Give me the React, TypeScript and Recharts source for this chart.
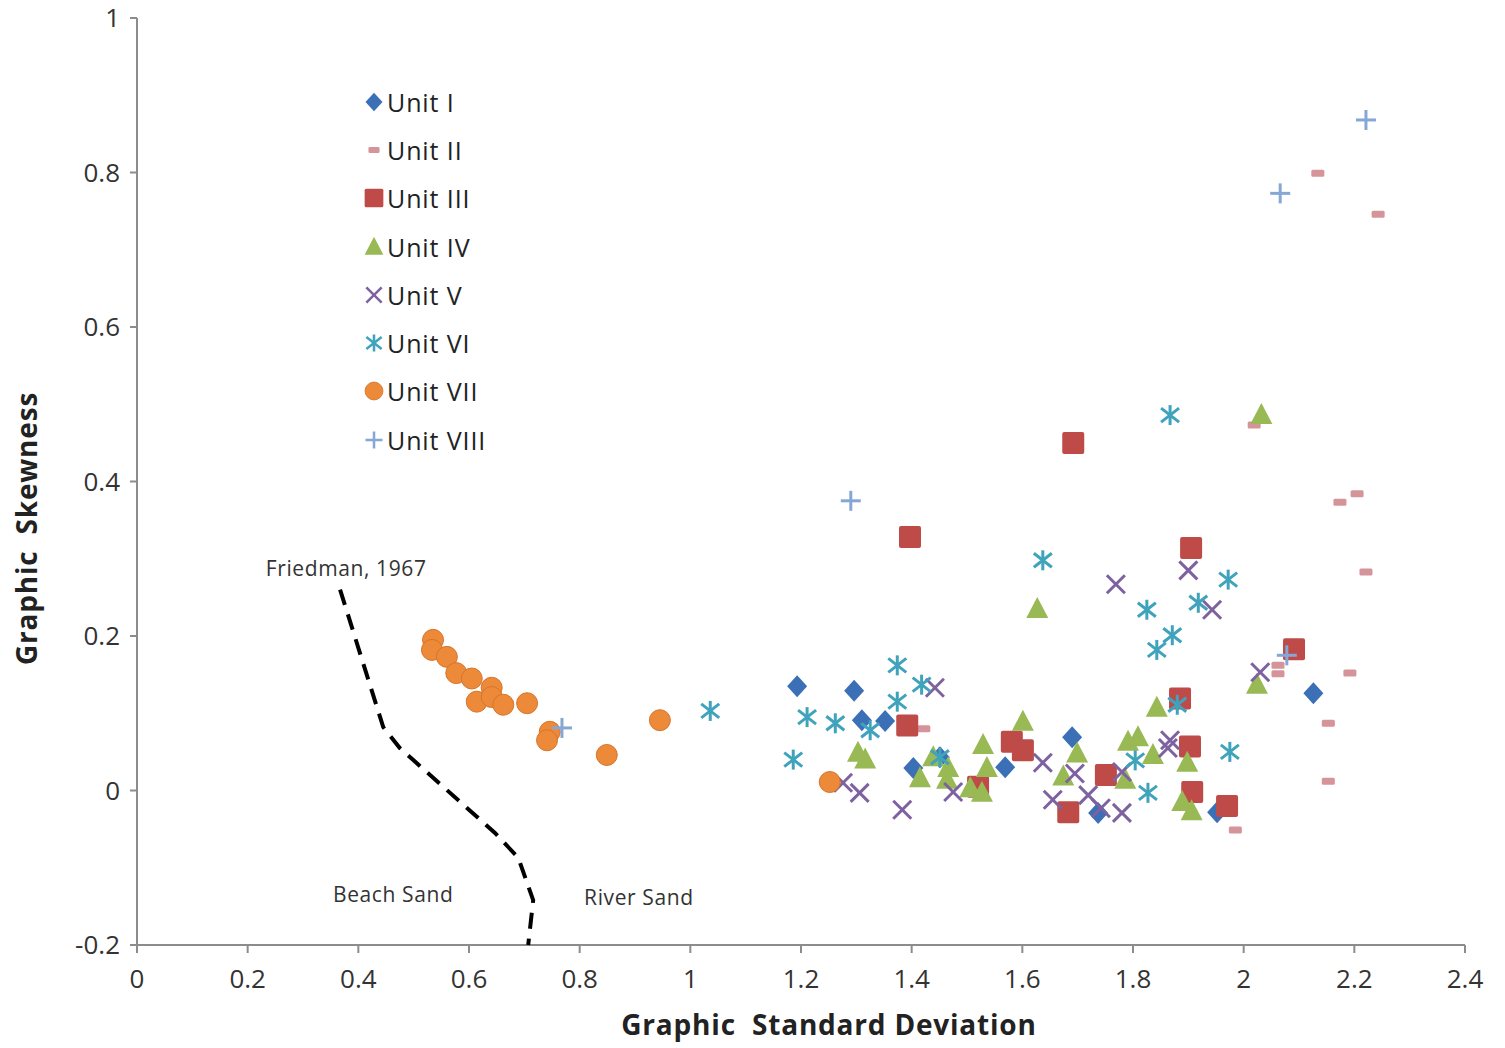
import React from 'react';
import { ScatterChart, Scatter, XAxis, YAxis, Legend, ReferenceDot, Label } from 'recharts';

const FONT = '"Open Sans", "Noto Sans", sans-serif';

// Graphic standard deviation (x) vs graphic skewness (y), per unit
const unitI = [
  { x: 1.193, y: 0.135 }, { x: 1.296, y: 0.129 }, { x: 1.31, y: 0.091 }, { x: 1.352, y: 0.09 },
  { x: 1.403, y: 0.029 }, { x: 1.451, y: 0.043 }, { x: 1.569, y: 0.03 }, { x: 1.69, y: 0.069 },
  { x: 1.737, y: -0.029 }, { x: 1.952, y: -0.028 }, { x: 2.126, y: 0.126 },
];
const unitII = [
  { x: 2.134, y: 0.799 }, { x: 2.243, y: 0.746 }, { x: 2.019, y: 0.473 }, { x: 2.174, y: 0.373 },
  { x: 2.205, y: 0.384 }, { x: 2.221, y: 0.283 }, { x: 2.192, y: 0.152 }, { x: 2.062, y: 0.162 },
  { x: 2.062, y: 0.151 }, { x: 2.153, y: 0.087 }, { x: 2.153, y: 0.012 }, { x: 1.985, y: -0.051 },
  { x: 1.422, y: 0.08 },
];
const unitIII = [
  { x: 1.692, y: 0.45 }, { x: 1.397, y: 0.328 }, { x: 1.905, y: 0.314 }, { x: 2.091, y: 0.183 },
  { x: 1.885, y: 0.119 }, { x: 1.903, y: 0.057 }, { x: 1.907, y: -0.002 }, { x: 1.97, y: -0.02 },
  { x: 1.751, y: 0.02 }, { x: 1.683, y: -0.028 }, { x: 1.581, y: 0.063 }, { x: 1.601, y: 0.052 },
  { x: 1.392, y: 0.084 }, { x: 1.52, y: 0.005 },
];
const unitIV = [
  { x: 2.032, y: 0.486 }, { x: 1.627, y: 0.235 }, { x: 2.024, y: 0.137 }, { x: 1.843, y: 0.107 },
  { x: 1.791, y: 0.063 }, { x: 1.809, y: 0.069 }, { x: 1.836, y: 0.046 }, { x: 1.898, y: 0.036 },
  { x: 1.786, y: 0.014 }, { x: 1.889, y: -0.015 }, { x: 1.906, y: -0.027 }, { x: 1.303, y: 0.049 },
  { x: 1.316, y: 0.04 }, { x: 1.415, y: 0.016 }, { x: 1.439, y: 0.043 }, { x: 1.466, y: 0.029 },
  { x: 1.464, y: 0.014 }, { x: 1.529, y: 0.059 }, { x: 1.536, y: 0.029 }, { x: 1.506, y: 0.003 },
  { x: 1.527, y: -0.003 }, { x: 1.601, y: 0.089 }, { x: 1.699, y: 0.048 }, { x: 1.674, y: 0.018 },
];
const unitV = [
  { x: 1.769, y: 0.267 }, { x: 1.9, y: 0.285 }, { x: 1.943, y: 0.234 }, { x: 2.03, y: 0.153 },
  { x: 1.867, y: 0.065 }, { x: 1.863, y: 0.055 }, { x: 1.78, y: -0.029 }, { x: 1.742, y: -0.023 },
  { x: 1.78, y: 0.024 }, { x: 1.442, y: 0.133 }, { x: 1.276, y: 0.01 }, { x: 1.306, y: -0.003 },
  { x: 1.383, y: -0.025 }, { x: 1.475, y: -0.002 }, { x: 1.637, y: 0.036 }, { x: 1.655, y: -0.012 },
  { x: 1.695, y: 0.022 }, { x: 1.719, y: -0.006 },
];
const unitVI = [
  { x: 1.867, y: 0.486 }, { x: 1.637, y: 0.298 }, { x: 1.972, y: 0.273 }, { x: 1.825, y: 0.234 },
  { x: 1.918, y: 0.243 }, { x: 1.871, y: 0.201 }, { x: 1.843, y: 0.182 }, { x: 1.88, y: 0.111 },
  { x: 1.804, y: 0.039 }, { x: 1.827, y: -0.003 }, { x: 1.975, y: 0.05 }, { x: 1.374, y: 0.162 },
  { x: 1.418, y: 0.137 }, { x: 1.374, y: 0.115 }, { x: 1.211, y: 0.095 }, { x: 1.262, y: 0.087 },
  { x: 1.325, y: 0.078 }, { x: 1.186, y: 0.04 }, { x: 1.451, y: 0.043 }, { x: 1.036, y: 0.103 },
];
const unitVII = [
  { x: 0.535, y: 0.195 }, { x: 0.533, y: 0.182 }, { x: 0.56, y: 0.173 }, { x: 0.577, y: 0.152 },
  { x: 0.605, y: 0.145 }, { x: 0.641, y: 0.133 }, { x: 0.614, y: 0.115 }, { x: 0.641, y: 0.121 },
  { x: 0.662, y: 0.111 }, { x: 0.705, y: 0.113 }, { x: 0.746, y: 0.076 }, { x: 0.741, y: 0.065 },
  { x: 0.945, y: 0.091 }, { x: 0.849, y: 0.046 }, { x: 1.252, y: 0.011 },
];
const unitVIII = [
  { x: 2.221, y: 0.868 }, { x: 2.066, y: 0.773 }, { x: 1.29, y: 0.375 }, { x: 0.768, y: 0.081 },
  { x: 2.078, y: 0.175 },
];

// Friedman (1967) beach / river sand boundary
const friedman = [
  { x: 0.367, y: 0.26 }, { x: 0.445, y: 0.082 }, { x: 0.475, y: 0.055 }, { x: 0.647, y: -0.055 },
  { x: 0.689, y: -0.087 }, { x: 0.716, y: -0.142 }, { x: 0.707, y: -0.2 },
];

const xTicks = [0, 0.2, 0.4, 0.6, 0.8, 1, 1.2, 1.4, 1.6, 1.8, 2, 2.2, 2.4];
const yTicks = [-0.2, 0, 0.2, 0.4, 0.6, 0.8, 1];

const Diamond = ({ cx, cy, fill }: any) => (
  <path d={`M${cx},${cy - 11}L${cx + 10},${cy}L${cx},${cy + 11}L${cx - 10},${cy}Z`} fill={fill} />
);
const Dash = ({ cx, cy, fill }: any) => <rect x={cx - 6.5} y={cy - 3.5} width={13} height={7} rx={1.5} fill={fill} />;
const Square = ({ cx, cy, fill }: any) => <rect x={cx - 11} y={cy - 11} width={22} height={22} rx={2} fill={fill} />;
const Triangle = ({ cx, cy, fill }: any) => (
  <path d={`M${cx},${cy - 12}L${cx + 11},${cy + 9}L${cx - 11},${cy + 9}Z`} fill={fill} />
);
const Cross = ({ cx, cy, fill }: any) => (
  <g stroke={fill} strokeWidth={3}>
    <line x1={cx - 9} y1={cy - 9} x2={cx + 9} y2={cy + 9} />
    <line x1={cx - 9} y1={cy + 9} x2={cx + 9} y2={cy - 9} />
  </g>
);
const Asterisk = ({ cx, cy, fill }: any) => (
  <g stroke={fill} strokeWidth={3}>
    <line x1={cx} y1={cy - 10} x2={cx} y2={cy + 10} />
    <line x1={cx - 9} y1={cy - 7} x2={cx + 9} y2={cy + 7} />
    <line x1={cx - 9} y1={cy + 7} x2={cx + 9} y2={cy - 7} />
  </g>
);
const Dot = ({ cx, cy, fill }: any) => <circle cx={cx} cy={cy} r={10.5} fill={fill} stroke="#D6742A" strokeWidth={1} />;
const Plus = ({ cx, cy, fill }: any) => (
  <g stroke={fill} strokeWidth={3}>
    <line x1={cx - 10} y1={cy} x2={cx + 10} y2={cy} />
    <line x1={cx} y1={cy - 10} x2={cx} y2={cy + 10} />
  </g>
);
const Nothing = () => <g />;

const units = [
  { name: 'Unit I', data: unitI, color: '#3B6FB6', Shape: Diamond },
  { name: 'Unit II', data: unitII, color: '#D4949A', Shape: Dash },
  { name: 'Unit III', data: unitIII, color: '#BE4B48', Shape: Square },
  { name: 'Unit IV', data: unitIV, color: '#98B954', Shape: Triangle },
  { name: 'Unit V', data: unitV, color: '#7E62A0', Shape: Cross },
  { name: 'Unit VI', data: unitVI, color: '#3FA3BC', Shape: Asterisk },
  { name: 'Unit VII', data: unitVII, color: '#EC8A3A', Shape: Dot },
  { name: 'Unit VIII', data: unitVIII, color: '#86A6D6', Shape: Plus },
];

const LegendBox = () => (
  <div style={{ fontFamily: FONT, fontSize: 25, letterSpacing: 0.9, color: '#222' }}>
    {units.map((u) => (
      <div key={u.name} style={{ display: 'flex', alignItems: 'center', height: 48.3 }}>
        <svg width={24} height={24} style={{ marginRight: 1 }}>
          <g transform="translate(12 12) scale(0.85) translate(-12 -12)">
            <u.Shape cx={12} cy={12} fill={u.color} />
          </g>
        </svg>
        <span>{u.name}</span>
      </div>
    ))}
  </div>
);

const tickStyle = { fontSize: 26, fill: '#333', fontFamily: FONT };
const axisLine = { stroke: '#8C8C8C', strokeWidth: 2 };
const noteStyle = { fontSize: 21, fill: '#333', fontFamily: FONT, letterSpacing: 0.6 };

export default function App() {
  return (
    <div style={{ position: 'absolute', left: 0, top: 0, width: 1505, height: 1048, background: '#fff' }}>
      <ScatterChart width={1505} height={1048} margin={{ top: 18, right: 40, left: 0, bottom: 0 }}>
        <XAxis
          type="number"
          dataKey="x"
          domain={[0, 2.4]}
          ticks={xTicks}
          interval={0}
          height={103}
          tick={tickStyle}
          tickSize={8}
          tickMargin={17}
          tickLine={{ stroke: '#8C8C8C', strokeWidth: 2 }}
          axisLine={axisLine}
        >
          <Label
            content={({ viewBox }: any) => (
              <text
                x={viewBox.x + viewBox.width / 2 + 28}
                y={viewBox.y + 90}
                textAnchor="middle"
                style={{ whiteSpace: 'pre' }}
                fontFamily={FONT}
                fontSize={28}
                letterSpacing={0.8}
                fontWeight="bold"
                fill="#222"
              >
                {'Graphic  Standard Deviation'}
              </text>
            )}
          />
        </XAxis>
        <YAxis
          type="number"
          dataKey="y"
          domain={[-0.2, 1]}
          ticks={yTicks}
          interval={0}
          width={137}
          tick={tickStyle}
          tickSize={7}
          tickMargin={10}
          tickLine={{ stroke: '#8C8C8C', strokeWidth: 2 }}
          axisLine={axisLine}
        >
          <Label
            content={({ viewBox }: any) => {
              const cx = viewBox.x + 37;
              const cy = viewBox.y + viewBox.height / 2 + 47;
              return (
                <text
                  x={cx}
                  y={cy}
                  transform={`rotate(-90 ${cx} ${cy})`}
                  textAnchor="middle"
                  style={{ whiteSpace: 'pre' }}
                  fontFamily={FONT}
                  fontSize={28}
                  letterSpacing={0.8}
                  fontWeight="bold"
                  fill="#222"
                >
                  {'Graphic  Skewness'}
                </text>
              );
            }}
          />
        </YAxis>
        <Legend
          layout="vertical"
          align="center"
          verticalAlign="middle"
          content={() => <LegendBox />}
          wrapperStyle={{ position: 'absolute', left: 362, top: 77.5, width: 180 }}
        />
        <Scatter
          name="Friedman"
          data={friedman}
          line={{ stroke: '#000', strokeWidth: 4, strokeDasharray: '16 10' }}
          shape={Nothing}
          legendType="none"
          isAnimationActive={false}
        />
        {units.map((u) => (
          <Scatter
            key={u.name}
            name={u.name}
            data={u.data}
            fill={u.color}
            shape={(p: any) => <u.Shape cx={p.cx} cy={p.cy} fill={u.color} />}
            isAnimationActive={false}
          />
        ))}
        <ReferenceDot x={0.378} y={0.287} r={0} fill="none" stroke="none"
          label={{ value: 'Friedman, 1967', position: 'center', ...noteStyle }} />
        <ReferenceDot x={0.463} y={-0.135} r={0} fill="none" stroke="none"
          label={{ value: 'Beach Sand', position: 'center', ...noteStyle }} />
        <ReferenceDot x={0.907} y={-0.138} r={0} fill="none" stroke="none"
          label={{ value: 'River Sand', position: 'center', ...noteStyle }} />
      </ScatterChart>
    </div>
  );
}
